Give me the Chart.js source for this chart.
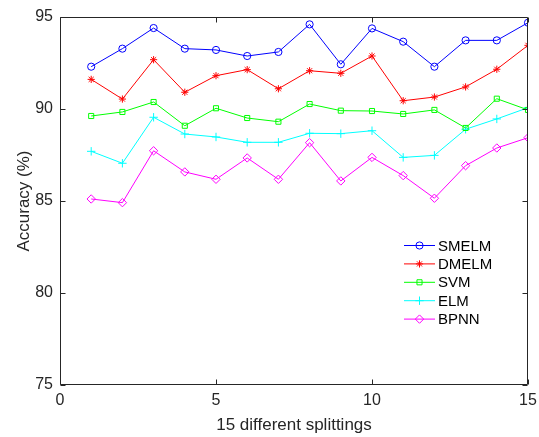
<!DOCTYPE html>
<html>
<head>
<meta charset="utf-8">
<script src="https://cdn.jsdelivr.net/npm/chart.js@4/dist/chart.umd.min.js"></script>
<style>
  html, body { margin: 0; padding: 0; background: #fff; }
  #wrap { width: 539px; height: 437px; }
</style>
</head>
<body>
<div id="wrap"><canvas id="grafico" width="539" height="437"></canvas></div>
<script>
const splits = [1, 2, 3, 4, 5, 6, 7, 8, 9, 10, 11, 12, 13, 14, 15];

const smelm = [92.30, 93.28, 94.40, 93.28, 93.21, 92.88, 93.10, 94.60, 92.43, 94.38, 93.66, 92.30, 93.73, 93.73, 94.69];
const dmelm = [91.61, 90.54, 92.68, 90.91, 91.81, 92.14, 91.10, 92.08, 91.94, 92.88, 90.45, 90.65, 91.20, 92.16, 93.46];
const svm   = [89.62, 89.84, 90.38, 89.09, 90.04, 89.51, 89.31, 90.27, 89.91, 89.89, 89.73, 89.95, 88.97, 90.56, 89.95];
const elm   = [87.70, 87.05, 89.55, 88.64, 88.48, 88.19, 88.19, 88.68, 88.66, 88.82, 87.37, 87.48, 88.90, 89.46, 90.07];
const bpnn  = [85.11, 84.91, 87.73, 86.58, 86.18, 87.34, 86.18, 88.17, 86.09, 87.37, 86.38, 85.15, 86.92, 87.88, 88.44];

const xTicks = [0, 5, 10, 15];
const yTicks = [75, 80, 85, 90, 95];

const inkColor = '#262626';
const fontFamily = '"Liberation Sans", Arial, Helvetica, sans-serif';

function serie(label, values, color, pointStyle, radius) {
  return {
    label,
    data: splits.map((s, i) => ({ x: s, y: values[i] })),
    borderColor: color,
    backgroundColor: 'transparent',
    borderWidth: 1,
    pointStyle,
    pointRadius: radius,
    pointHoverRadius: radius,
    pointBorderColor: color,
    pointBackgroundColor: 'transparent',
    pointBorderWidth: 1,
    tension: 0
  };
}

// box around the axes with inward ticks on all four sides
const boxAxes = {
  id: 'boxAxes',
  afterDatasetsDraw(chart) {
    const { ctx, chartArea: a, scales: { x, y } } = chart;
    const len = 5;
    const L = Math.round(a.left) + 0.5, R = Math.round(a.right) - 0.5;
    const T = Math.round(a.top) + 0.5, B = Math.round(a.bottom) - 0.5;
    ctx.save();
    ctx.strokeStyle = inkColor;
    ctx.lineWidth = 1;
    ctx.beginPath();
    ctx.rect(L, T, R - L, B - T);
    xTicks.forEach(v => {
      const px = Math.round(x.getPixelForValue(v)) + 0.5;
      ctx.moveTo(px, B); ctx.lineTo(px, B - len);
      ctx.moveTo(px, T); ctx.lineTo(px, T + len);
    });
    yTicks.forEach(v => {
      const py = Math.round(y.getPixelForValue(v)) + 0.5;
      ctx.moveTo(L, py); ctx.lineTo(L + len, py);
      ctx.moveTo(R, py); ctx.lineTo(R - len, py);
    });
    ctx.stroke();
    ctx.restore();
  }
};

// legend inside the plot, no frame
const innerLegend = {
  id: 'innerLegend',
  afterDraw(chart) {
    const { ctx } = chart;
    const x0 = 404, x1 = 435, tx = 438, y0 = 245.5, step = 18.4;
    ctx.save();
    ctx.font = '15px ' + fontFamily;
    ctx.textBaseline = 'middle';
    ctx.textAlign = 'left';
    chart.data.datasets.forEach((ds, i) => {
      const yy = y0 + i * step;
      ctx.strokeStyle = ds.borderColor;
      ctx.lineWidth = 1;
      ctx.beginPath();
      ctx.moveTo(x0, yy); ctx.lineTo(x1, yy);
      ctx.stroke();
      ctx.fillStyle = 'transparent';
      Chart.helpers.drawPoint(ctx, {
        pointStyle: ds.pointStyle,
        radius: ds.pointRadius,
        rotation: 0,
        borderWidth: 1
      }, (x0 + x1) / 2, yy);
      ctx.fillStyle = '#000';
      ctx.fillText(ds.label, tx, yy + 1);
    });
    ctx.restore();
  }
};

new Chart(document.getElementById('grafico'), {
  type: 'line',
  data: {
    datasets: [
      serie('SMELM', smelm, '#0000ff', 'circle', 3.6),
      serie('DMELM', dmelm, '#ff0000', 'star', 3.6),
      serie('SVM', svm, '#00ff00', 'rect', 3.6),
      serie('ELM', elm, '#00ffff', 'cross', 4.2),
      serie('BPNN', bpnn, '#ff00ff', 'rectRot', 4.2)
    ]
  },
  options: {
    responsive: false,
    animation: false,
    devicePixelRatio: 1,
    layout: { padding: { top: 17, right: 11, left: 0, bottom: 0 } },
    plugins: {
      legend: { display: false },
      tooltip: { enabled: false }
    },
    scales: {
      x: {
        type: 'linear',
        min: 0,
        max: 15,
        afterFit(scale) {
          scale.height = 52;
          scale.paddingLeft = 0;
          scale.paddingRight = 0;
        },
        afterBuildTicks(scale) { scale.ticks = xTicks.map(v => ({ value: v })); },
        grid: { display: false, drawTicks: false },
        border: { display: false },
        ticks: {
          color: inkColor,
          padding: 6,
          font: { family: fontFamily, size: 16 },
          autoSkip: false,
          maxRotation: 0
        },
        title: {
          display: true,
          text: '15 different splittings',
          color: inkColor,
          font: { family: fontFamily, size: 17 },
          padding: { top: 0, bottom: 1 }
        }
      },
      y: {
        min: 75,
        max: 95,
        afterFit(scale) {
          scale.width = 60;
          scale.paddingTop = 0;
          scale.paddingBottom = 0;
        },
        afterBuildTicks(scale) { scale.ticks = yTicks.map(v => ({ value: v })); },
        grid: { display: false, drawTicks: false },
        border: { display: false },
        ticks: {
          color: inkColor,
          padding: 7,
          font: { family: fontFamily, size: 16 }
        },
        title: {
          display: true,
          text: 'Accuracy (%)',
          color: inkColor,
          font: { family: fontFamily, size: 17 },
          padding: { top: 14, bottom: 0 }
        }
      }
    }
  },
  plugins: [boxAxes, innerLegend]
});
</script>
</body>
</html>
